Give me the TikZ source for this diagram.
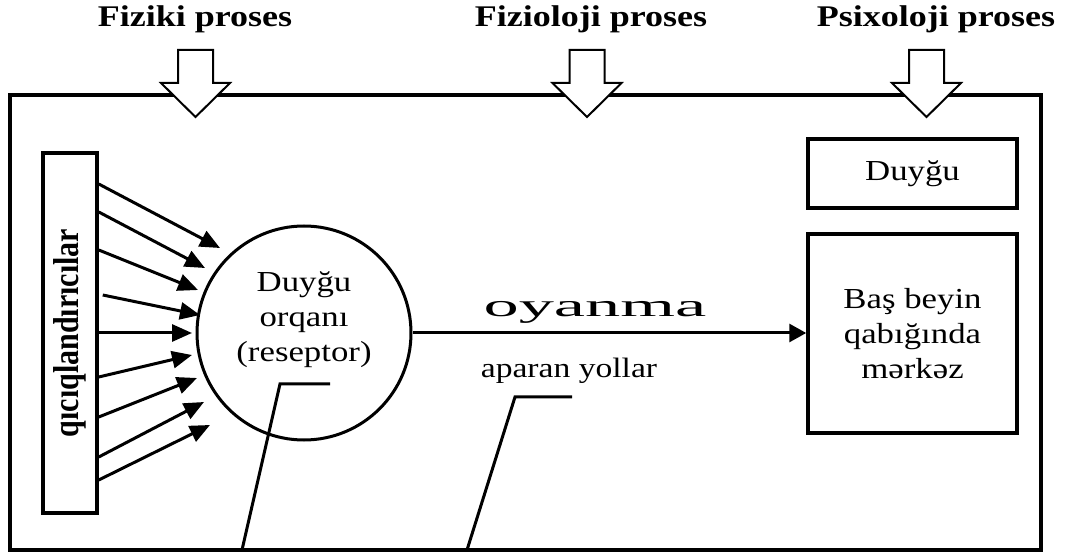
\documentclass[tikz,border=0pt]{standalone}
\usepackage{fontspec}
\usepackage{graphicx}
\setmainfont{Liberation Serif}[FakeStretch=1.2]
\newfontfamily\barfont{Liberation Serif}
\newfontfamily\widefont{Liberation Serif}[FakeStretch=2.2]
\usetikzlibrary{arrows.meta,calc}
\tikzset{
  frame/.style={draw, line width=4pt, inner sep=0pt},
  box/.style={draw, line width=3.5pt, inner sep=0pt, minimum width=209pt, align=center, font=\fontsize{29}{35}\selectfont},
  title/.style={font=\fontsize{30}{36}\selectfont\bfseries, anchor=base, inner sep=0pt},
  txt/.style={font=\fontsize{29}{35}\selectfont, align=center, inner sep=0pt},
  stim/.style={line width=3pt, -{Triangle[length=20pt,width=17pt]}},
  mainarrow/.style={line width=3pt, -{Triangle[length=17pt,width=18pt]}},
  blockarr/.style={draw, fill=white, line width=2pt, line join=miter},
  leader/.style={line width=3pt}
}
\begin{document}
\begin{tikzpicture}[x=1pt,y=-1pt]
\fill[white] (0,0) rectangle (1069,553);
\useasboundingbox (0,0) rectangle (1069,553);

% frame
\node[frame, minimum width=1031pt, minimum height=455pt] (frame) at (525.5,322.5) {};

% titles
\node[title] (fiz) at (195,27) {Fiziki proses};
\node[title] (fizl) at (591,27) {Fizioloji proses};
\node[title] (psi) at (936,27) {Psixoloji proses};

% block arrows
\foreach \cx in {195.5,587,926.5}{
  \draw[blockarr] (\cx-17.5,50) -- (\cx+17.5,50) -- (\cx+17.5,83) -- (\cx+34.5,83)
    -- (\cx,117) -- (\cx-34.5,83) -- (\cx-17.5,83) -- cycle;
}

% stimulus bar
\node[draw, line width=3.5pt, inner sep=0pt, minimum width=54pt, minimum height=360pt] (bar) at (70,333) {};
\node[rotate=90, inner sep=0pt, font=\barfont\bfseries\fontsize{30}{36}\selectfont] (barlabel) at (bar.center) {\scalebox{1}[1.2]{qıcıqlandırıcılar}};

% sense organ
\node[draw, circle, line width=3pt, minimum size=214pt, inner sep=0pt] (organ) at (304,333) {};
\node[txt] (organtext) at (304,320) {Duyğu\\orqanı\\(reseptor)};

% stimulus arrows
\foreach \dx/\sy/\tx/\ty in {0/184/220/248, 0/212/205/268, 0/250/198/290, 4/295/200/315,
  0/333/192/333, 0/377/192/355, 0/417/197/378, 0/457/204/402, 0/480/210/425}{
  \draw[stim] ($(bar.east |- 0,\sy)+(\dx,0)$) -- (\tx,\ty);
}

% right boxes
\node[box, minimum height=69pt] (duygu) at (912.5,173.5) {Duyğu};
\node[box, minimum height=199pt] (cortex) at (912.5,333.5) {Baş beyin\\qabığında\\mərkəz};

% excitation arrow
\draw[mainarrow] (organ.east) -- (cortex.west |- organ.east);
\node[font=\widefont\fontsize{32}{36}\selectfont, anchor=base, inner sep=0pt] (oyanma) at (595,317) {oyanma};
\node[font=\fontsize{28}{34}\selectfont, anchor=base, inner sep=0pt] (aparan) at (569,378) {aparan yollar};

% leader lines
\coordinate (l1a) at (330,384);
\coordinate (l1b) at (280,384);
\coordinate (l1c) at (242,550);
\coordinate (l2a) at (572,397);
\coordinate (l2b) at (515,397);
\coordinate (l2c) at (467,550);
\draw[leader] (l1a) -- (l1b) -- (l1c);
\draw[leader] (l2a) -- (l2b) -- (l2c);
\end{tikzpicture}
\end{document}
